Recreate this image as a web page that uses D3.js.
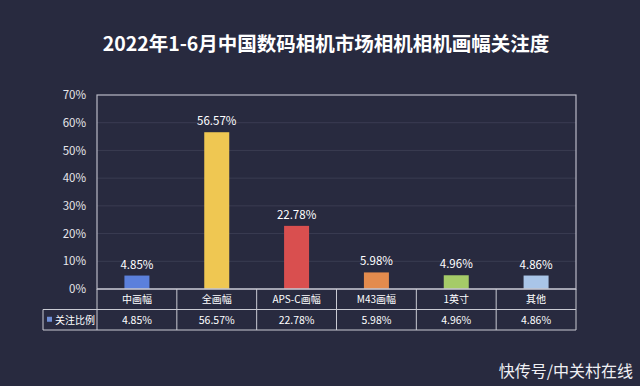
<!DOCTYPE html>
<html>
<head>
<meta charset="utf-8">
<script src="https://cdn.jsdelivr.net/npm/d3@7"></script>
<style>
  body { margin: 0; background: #282a3f; }
  text { font-family: "Noto Sans CJK SC", "Noto Sans", sans-serif; }
</style>
</head>
<body>
<div id="chart"></div>
<script>
const categories = ["中画幅", "全画幅", "APS-C画幅", "M43画幅", "1英寸", "其他"];
const values = [4.85, 56.57, 22.78, 5.98, 4.96, 4.86];
const barColors = ["#5b80dc", "#efc752", "#d94f4f", "#e38b4d", "#a5cb68", "#a9c5e8"];
const yTicks = [0, 10, 20, 30, 40, 50, 60, 70];
const seriesName = "关注比例";

const svg = d3.select('#chart')
  .append('svg')
  .attr('width', 640)
  .attr('height', 386);

const margin = { top: 95, right: 64, bottom: 97, left: 97 },
      width = +svg.attr('width') - margin.left - margin.right,
      height = +svg.attr('height') - margin.top - margin.bottom;

const chart = svg.append('g')
  .attr('transform', `translate(${margin.left},${margin.top})`);

const x = d3.scaleBand()
  .domain(categories)
  .range([0, width]);

const y = d3.scaleLinear()
  .domain([0, 70])
  .range([height, 0]);

// Gridlines
chart.append("g")
  .selectAll("line")
  .data(yTicks.slice(1, -1))
  .join("line")
  .attr("x1", 0)
  .attr("x2", width)
  .attr("y1", d => y(d))
  .attr("y2", d => y(d))
  .attr("stroke", "#3a3c52")
  .attr("stroke-width", 1);

// Y axis labels
const yAxis = chart.append("g")
  .call(d3.axisLeft(y).tickValues(yTicks).tickFormat(d => d + "%").tickSize(0).tickPadding(11));
yAxis.select(".domain").remove();
yAxis.selectAll("text")
  .style("font-size", "11.5px")
  .style("fill", "#e6e6ea");

// Bars
chart.selectAll("rect.bar")
  .data(values)
  .join("rect")
  .attr("class", "bar")
  .attr("x", (d, i) => x(categories[i]) + x.bandwidth() / 2 - 12.5)
  .attr("y", d => y(d))
  .attr("width", 25)
  .attr("height", d => height - y(d))
  .attr("fill", (d, i) => barColors[i]);

// Labels above bars
chart.selectAll("text.bar-label")
  .data(values)
  .join("text")
  .attr("class", "bar-label")
  .attr("x", (d, i) => x(categories[i]) + x.bandwidth() / 2)
  .attr("y", d => y(d) - 7)
  .attr("text-anchor", "middle")
  .style("fill", "#ffffff")
  .style("font-size", "11.5px")
  .text(d => d.toFixed(2) + "%");

// Plot frame
chart.append("rect")
  .attr("x", 0)
  .attr("y", 0)
  .attr("width", width)
  .attr("height", height)
  .attr("fill", "none")
  .attr("stroke", "#b9bac6")
  .attr("stroke-width", 1.2);

// Data table
const rowH = 20.5;
const legendLeft = -54;
const table = chart.append("g")
  .attr("transform", `translate(0,${height})`);

const lineColor = "#c9cad3";
// horizontal lines
table.append("line").attr("x1", 0).attr("x2", width).attr("y1", 0).attr("y2", 0)
  .attr("stroke", lineColor);
table.append("line").attr("x1", legendLeft).attr("x2", width).attr("y1", rowH).attr("y2", rowH)
  .attr("stroke", lineColor);
table.append("line").attr("x1", legendLeft).attr("x2", width).attr("y1", rowH * 2).attr("y2", rowH * 2)
  .attr("stroke", lineColor);
// vertical lines
table.append("line").attr("x1", legendLeft).attr("x2", legendLeft).attr("y1", rowH).attr("y2", rowH * 2)
  .attr("stroke", lineColor);
table.selectAll("line.col")
  .data(categories.concat(["end"]))
  .join("line")
  .attr("class", "col")
  .attr("x1", (d, i) => i * x.bandwidth())
  .attr("x2", (d, i) => i * x.bandwidth())
  .attr("y1", 0)
  .attr("y2", rowH * 2)
  .attr("stroke", lineColor);

table.selectAll("text.cat")
  .data(categories)
  .join("text")
  .attr("class", "cat")
  .attr("x", d => x(d) + x.bandwidth() / 2)
  .attr("y", rowH / 2 + 4)
  .attr("text-anchor", "middle")
  .style("fill", "#ffffff")
  .style("font-size", "10px")
  .text(d => d);

table.selectAll("text.val")
  .data(values)
  .join("text")
  .attr("class", "val")
  .attr("x", (d, i) => x(categories[i]) + x.bandwidth() / 2)
  .attr("y", rowH * 1.5 + 4)
  .attr("text-anchor", "middle")
  .style("fill", "#ffffff")
  .style("font-size", "10.5px")
  .text(d => d.toFixed(2) + "%");

// Series legend in table
table.append("rect")
  .attr("x", legendLeft + 4)
  .attr("y", rowH * 1.5 - 3)
  .attr("width", 5)
  .attr("height", 5)
  .attr("fill", "#6f8fd6");
table.append("text")
  .attr("x", legendLeft + 12)
  .attr("y", rowH * 1.5 + 4)
  .style("fill", "#ffffff")
  .style("font-size", "10px")
  .text(seriesName);

// Title
svg.append("text")
  .attr("x", 326)
  .attr("y", 51)
  .attr("text-anchor", "middle")
  .style("font-size", "19.5px")
  .style("font-weight", "bold")
  .style("fill", "#ffffff")
  .text("2022年1-6月中国数码相机市场相机相机画幅关注度");

// Watermark
svg.append("text")
  .attr("x", 633)
  .attr("y", 377)
  .attr("text-anchor", "end")
  .style("font-size", "16px")
  .style("fill", "#f0f0f4")
  .text("快传号/中关村在线");
</script>
</body>
</html>
